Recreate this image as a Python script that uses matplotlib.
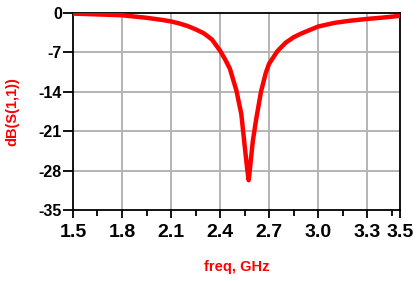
import matplotlib
matplotlib.use("Agg")
import matplotlib.pyplot as plt
from matplotlib import font_manager

# S11 sweep
freq_ghz = [1.5, 1.65, 1.8, 1.95, 2.05, 2.1, 2.15, 2.2, 2.25, 2.3, 2.35, 2.4,
            2.43, 2.46, 2.5, 2.53, 2.55, 2.565, 2.575, 2.585, 2.6, 2.62, 2.65,
            2.68, 2.7, 2.75, 2.8, 2.85, 2.9, 3.0, 3.1, 3.2, 3.3, 3.4, 3.5]
s11_db = [-0.1, -0.25, -0.4, -0.85, -1.25, -1.5, -1.85, -2.3, -2.9, -3.6,
          -4.7, -6.7, -8.2, -9.9, -13.8, -18.0, -23.5, -27.5, -29.7, -27.0,
          -22.8, -19.0, -14.0, -10.6, -9.0, -6.8, -5.3, -4.3, -3.6, -2.4,
          -1.75, -1.35, -1.05, -0.8, -0.5]

x_major = [1.5, 1.8, 2.1, 2.4, 2.7, 3.0, 3.3, 3.5]
x_minor = [1.65, 1.95, 2.25, 2.55, 2.85, 3.15, 3.45]
y_ticks = [0, -7, -14, -21, -28, -35]

names = {f.name for f in font_manager.fontManager.ttflist}
narrow = "Liberation Sans Narrow" if "Liberation Sans Narrow" in names else "Liberation Sans"

fig = plt.figure(figsize=(4.17, 2.81), dpi=100)
ax = fig.add_axes([0.175, 0.2527, 0.784, 0.701])

ax.plot(freq_ghz, s11_db, color="#ff0000", linewidth=3.2, zorder=3)

ax.set_xlim(1.5, 3.5)
ax.set_ylim(-35, 0)
ax.set_xticks(x_major)
ax.set_xticks(x_minor, minor=True)
ax.set_yticks(y_ticks)
ax.set_xticklabels([f"{v:.1f}" for v in x_major], fontfamily=narrow,
                   fontweight="bold", fontsize=14)
ax.set_yticklabels([str(v) for v in y_ticks], fontfamily=narrow,
                   fontweight="bold", fontsize=11.5)

for v in x_major[1:-1]:
    ax.axvline(v, color="#b4b4b4", linewidth=1.4, zorder=1)
for v in y_ticks[1:-1]:
    ax.axhline(v, color="#b4b4b4", linewidth=1.4, zorder=1)

ax.tick_params(axis="x", which="major", direction="out", length=6, width=1.3, pad=4)
ax.tick_params(axis="x", which="minor", direction="out", length=4, width=1.3)
ax.tick_params(axis="y", direction="out", length=7, width=1.3, pad=1)

for s in ax.spines.values():
    s.set_linewidth(1.3)
    s.set_color("black")

ax.set_xlabel("freq, GHz", color="#ff0000", fontweight="bold", fontsize=10.5,
              fontfamily="Liberation Sans", labelpad=14)
ax.set_ylabel("dB(S(1,1))", color="#ff0000", fontweight="bold", fontsize=10.5,
              fontfamily="Liberation Sans", labelpad=14)

fig.savefig("out.png", dpi=100)
